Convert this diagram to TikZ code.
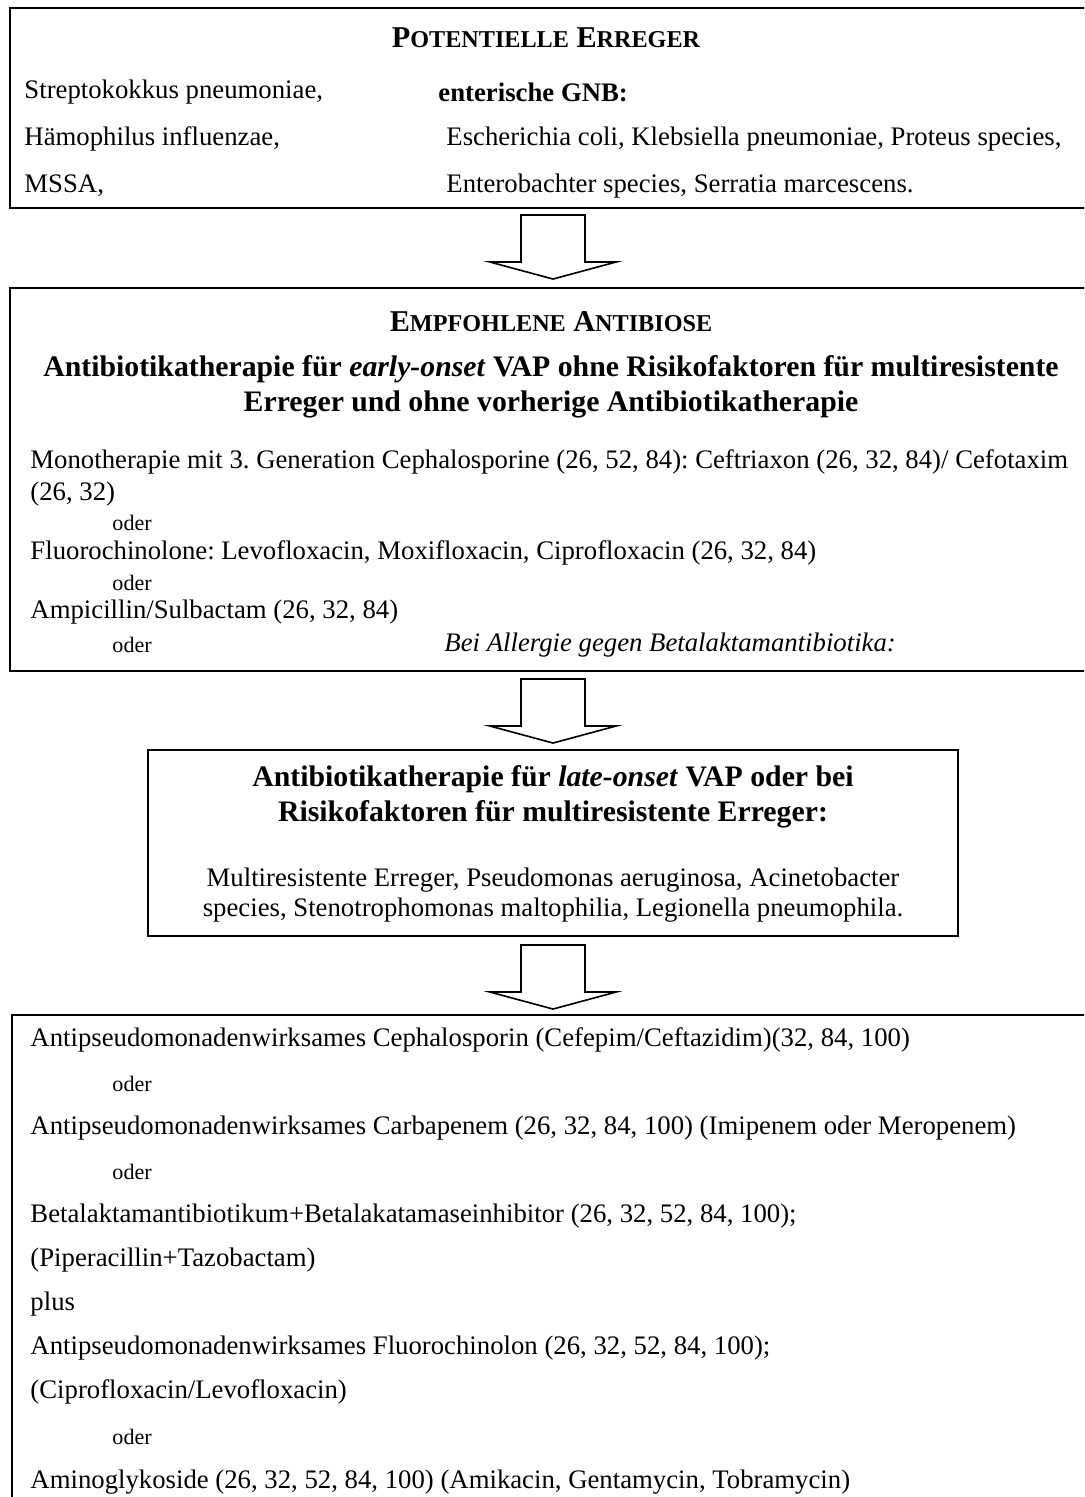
\documentclass[tikz,border=0pt]{standalone}
\usepackage{fontspec}
\setmainfont{Liberation Serif}
\usetikzlibrary{fit}
\frenchspacing

% falsche Kapitaelchen
\newcommand\kap[2]{#1{\fontsize{10.4pt}{12pt}\selectfont #2}}

\tikzset{
  box/.style={draw, line width=0.9pt, inner sep=0pt},
  txt/.style={anchor=west, inner sep=0pt, font=\fontsize{11.5pt}{13.8pt}\selectfont},
  txtb/.style={txt, font=\fontsize{11.5pt}{13.8pt}\selectfont\bfseries},
  txti/.style={txt, font=\fontsize{11.5pt}{13.8pt}\selectfont\itshape},
  oder/.style={anchor=west, inner sep=0pt, font=\fontsize{9.5pt}{11pt}\selectfont},
  head/.style={inner sep=0pt, font=\fontsize{13pt}{15pt}\selectfont\bfseries},
  subhead/.style={inner sep=0pt, align=center, font=\fontsize{12.8pt}{15pt}\selectfont\bfseries},
  pics/blockdown/.style={code={
    \draw[line width=0.7pt, line join=miter]
      (-32,0) -- (32,0) -- (32,47) -- (63,47) -- (0,64) -- (-63,47) -- (-32,47) -- cycle;
  }}
}

\begin{document}
\begin{tikzpicture}[x=0.43pt,y=-0.43pt]
\useasboundingbox (0,0) rectangle (1084,1497);
\clip (0,0) rectangle (1084,1497);

% Kaesten
\node[box, fit={(10,8) (1110,208)}] (erreger) {};
\node[box, fit={(10,288) (1110,671)}] (empf) {};
\node[box, fit={(148,750) (958,936)}] (spaet) {};
\node[box, fit={(12,1015) (1110,1530)}] (therapie) {};

% Pfeile
\path (erreger.south -| spaet.north) ++(0,6) pic {blockdown};
\path (empf.south -| spaet.north) ++(0,7) pic {blockdown};
\path (spaet.south) ++(0,8) pic {blockdown};

% potentielle Erreger
\node[head] (titel1) at (546,38) {\kap{P}{OTENTIELLE} \kap{E}{RREGER}};
\node[txt] (strep) at (24,92) {Streptokokkus pneumoniae,};
\node[txt] (haem) at (24,139) {Hämophilus influenzae,};
\node[txt] (mssa) at (24,186) {MSSA,};
\node[txtb] (gnb) at (438,92) {enterische GNB:};
\node[txt] (ecoli) at (446,139) {Escherichia coli, Klebsiella pneumoniae, Proteus species,};
\node[txt] (entero) at (446,186) {Enterobachter species, Serratia marcescens.};

% empfohlene Antibiose
\node[head] (titel2) at (551,322) {\kap{E}{MPFOHLENE} \kap{A}{NTIBIOSE}};
\node[subhead] (early) at (551,387) {Antibiotikatherapie für \textit{early-onset} VAP ohne Risikofaktoren für multiresistente\\Erreger und ohne vorherige Antibiotikatherapie};
\node[txt] (mono) at (30,462) {Monotherapie mit 3. Generation Cephalosporine (26, 52, 84): Ceftriaxon (26, 32, 84)/ Cefotaxim};
\node[txt] (mono2) at (30,494) {(26, 32)};
\node[oder] (oder1) at (112,523) {oder};
\node[txt] (fluoro) at (30,553) {Fluorochinolone: Levofloxacin, Moxifloxacin, Ciprofloxacin (26, 32, 84)};
\node[oder] (oder2) at (112,583) {oder};
\node[txt] (ampi) at (30,612) {Ampicillin/Sulbactam (26, 32, 84)};
\node[oder] (oder3) at (112,645) {oder};
\node[txti] (allergie) at (444,645) {Bei Allergie gegen Betalaktamantibiotika:};

% late-onset
\node[subhead] (late) at (553,797) {Antibiotikatherapie für \textit{late-onset} VAP oder bei\\Risikofaktoren für multiresistente Erreger:};
\node[txt, anchor=center, align=center, font=\fontsize{11.5pt}{13pt}\selectfont] (mre) at (553,895) {Multiresistente Erreger, Pseudomonas aeruginosa, Acinetobacter\\species, Stenotrophomonas maltophilia, Legionella pneumophila.};

% Therapie
\node[txt] (ceph) at (30,1040) {Antipseudomonadenwirksames Cephalosporin (Cefepim/Ceftazidim)(32, 84, 100)};
\node[oder] (oder4) at (112,1084) {oder};
\node[txt] (carb) at (30,1128) {Antipseudomonadenwirksames Carbapenem (26, 32, 84, 100) (Imipenem oder Meropenem)};
\node[oder] (oder5) at (112,1172) {oder};
\node[txt] (beta) at (30,1216) {Betalaktamantibiotikum+Betalakatamaseinhibitor (26, 32, 52, 84, 100);};
\node[txt] (pip) at (30,1260) {(Piperacillin+Tazobactam)};
\node[txt] (plus) at (30,1304) {plus};
\node[txt] (chin) at (30,1348) {Antipseudomonadenwirksames Fluorochinolon (26, 32, 52, 84, 100);};
\node[txt] (cipro) at (30,1392) {(Ciprofloxacin/Levofloxacin)};
\node[oder] (oder6) at (112,1437) {oder};
\node[txt] (amino) at (30,1482) {Aminoglykoside (26, 32, 52, 84, 100) (Amikacin, Gentamycin, Tobramycin)};
\end{tikzpicture}
\end{document}
